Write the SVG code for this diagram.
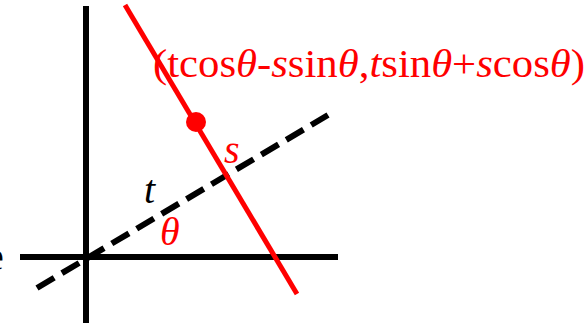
<svg xmlns="http://www.w3.org/2000/svg" width="587" height="326" viewBox="0 0 587 326">
<style>
.axis{stroke:#000;stroke-width:6;fill:none}
.dash{stroke:#000;stroke-width:6;stroke-dasharray:20,9;fill:none}
.red{stroke:#f00;stroke-width:5;fill:none}
.lbl{font-family:"Liberation Serif","Times New Roman",serif;font-size:40px}
.big{font-size:41px}
.it{font-style:italic}
</style>
<g id="connectors">
<line class="axis" x1="86" y1="6" x2="86" y2="323"/>
<line class="axis" x1="20" y1="257" x2="338" y2="257"/>
<line class="dash" x1="37" y1="288" x2="328" y2="115"/>
<line class="red" x1="125" y1="5" x2="297" y2="294"/>
</g>
<g id="point">
<circle cx="196" cy="122" r="10" fill="#f00"/>
</g>
<g id="labels">
<text class="lbl big" x="153" y="77" fill="#f00" textLength="432" lengthAdjust="spacingAndGlyphs">(tcos<tspan class="it">θ</tspan>-<tspan class="it">s</tspan>sin<tspan class="it">θ</tspan>,<tspan class="it">t</tspan>sin<tspan class="it">θ</tspan>+<tspan class="it">s</tspan>cos<tspan class="it">θ</tspan>)</text>
<text class="lbl it" x="224" y="163" fill="#f00">s</text>
<text class="lbl it" x="144" y="203" fill="#000">t</text>
<text class="lbl it" x="160" y="245" fill="#f00">θ</text>
<text class="lbl" x="-14" y="270" fill="#000">e</text>
</g>
</svg>
